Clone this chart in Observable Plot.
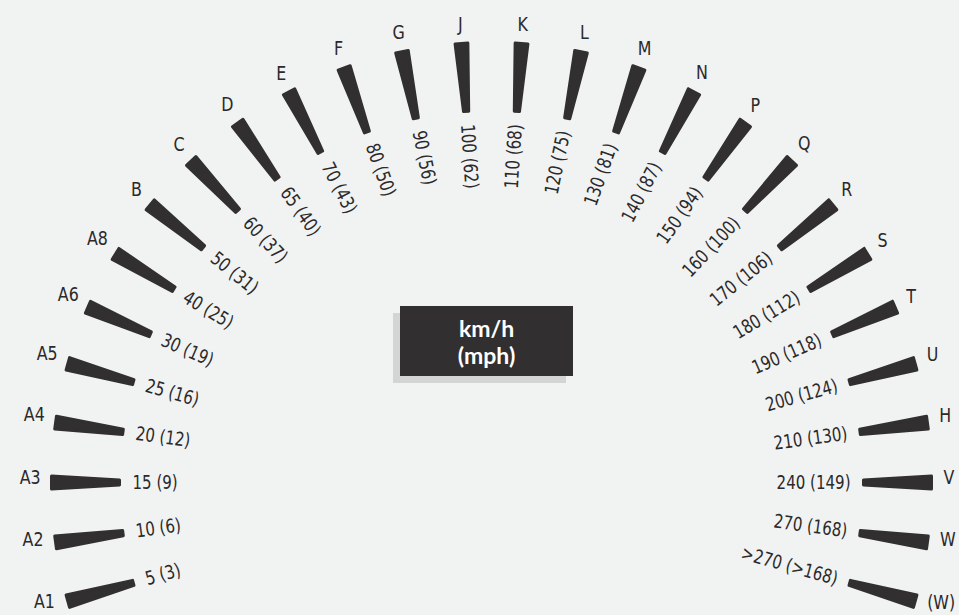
<!DOCTYPE html>
<html><head><meta charset="utf-8">
<script src="https://cdn.jsdelivr.net/npm/d3@7"></script>
<script src="https://cdn.jsdelivr.net/npm/@observablehq/plot@0.6"></script>
<style>
html,body{margin:0;padding:0;background:#f1f2f2;}
#chart svg{display:block;}
</style></head><body><div id="chart"></div>
<script>
// Speed rating symbols, around the arc from lower-left to lower-right
const ratings = ["A1","A2","A3","A4","A5","A6","A8","B","C","D","E","F","G","J","K","L","M","N","P","Q","R","S","T","U","H","V","W","(W)"];
// Maximum speed, km/h
const kmh = ["5","10","15","20","25","30","40","50","60","65","70","80","90","100","110","120","130","140","150","160","170","180","190","200","210","240","270",">270"];
// Maximum speed, mph
const mph = ["3","6","9","12","16","19","25","31","37","40","43","50","56","62","68","75","81","87","94","100","106","112","118","124","130","149","168",">168"];
const unitLabel = "km/h\n(mph)";

// layout
const STEP = 180 / 23;             // degrees between wedges
const START = 180 + 2 * STEP;      // first wedge angle (A1)
const R_OUT = 440, R_IN = 372, HW_OUT = 6.4, HW_IN = 2.6;
const R_LETTER = 453, R_SPEED = 359;
const LETTER_SIZE = 20, LETTER_SQUEEZE = 0.88;
const DARK = "#312f30", BG = "#f1f2f2", SHADOW = "#d3d4d4", INK = "#2b292a";
const FONT = "'Liberation Sans Narrow','DejaVu Sans Condensed',sans-serif";

const ctx = document.createElement("canvas").getContext("2d");
ctx.font = `${LETTER_SIZE}px ${FONT}`;

const rows = ratings.map((r, i) => {
  const deg = START - i * STEP;
  const t = deg * Math.PI / 180;
  const c = Math.cos(t), s = Math.sin(t);
  // letter box sits just outside the circle R_LETTER (slightly pulled toward the horizontal)
  const lt = (90 + (deg - 90) * 0.993) * Math.PI / 180;
  const lc = Math.cos(lt), ls = Math.sin(lt);
  const hw = ctx.measureText(r).width * LETTER_SQUEEZE / 2, hh = 6;
  const lr = R_LETTER + 0.8 * hw * Math.abs(lc) + hh * Math.abs(ls);
  return {rating: r, label: `${kmh[i]} (${mph[i]})`, deg, c, s, lx: lr * lc, ly: lr * ls};
});

const wedgePts = rows.flatMap(d => {
  const px = -d.s, py = d.c;
  const pts = [[R_OUT, HW_OUT], [R_OUT, -HW_OUT], [R_IN, -HW_IN], [R_IN, HW_IN], [R_OUT, HW_OUT]];
  return pts.map(([r, w]) => ({rating: d.rating, x: r * d.c + w * px, y: r * d.s + w * py}));
});

const left = rows.filter(d => d.deg > 90);
const right = rows.filter(d => d.deg < 90);

const box = [{x1: -91, x2: 82, y1: 106, y2: 176}];
const shadow = [{x1: -98, x2: 75, y1: 99, y2: 169}];

const chart = Plot.plot({
  width: 959, height: 615,
  marginTop: 0, marginRight: 0, marginBottom: 0, marginLeft: 0,
  style: {background: BG},
  x: {domain: [-491, 468], range: [0, 959], axis: null},
  y: {domain: [-133, 482], range: [615, 0], axis: null},
  marks: [
    Plot.rect(shadow, {x1: "x1", x2: "x2", y1: "y1", y2: "y2", fill: SHADOW}),
    Plot.rect(box, {x1: "x1", x2: "x2", y1: "y1", y2: "y2", fill: DARK}),
    Plot.text([unitLabel], {x: [-5], y: [141], text: d => d, fill: "white", fontSize: 23, fontWeight: "bold", fontFamily: "Lato, 'Open Sans', sans-serif", lineHeight: 1.17}),
    Plot.line(wedgePts, {x: "x", y: "y", z: "rating", fill: DARK, stroke: DARK, strokeWidth: 3, strokeLinejoin: "round"}),
    Plot.text(rows, {x: "lx", y: "ly", text: "rating", fontSize: LETTER_SIZE, fontFamily: FONT, fill: INK, className: "letter"}),
    Plot.text(left, {x: d => R_SPEED * d.c, y: d => R_SPEED * d.s, text: "label", rotate: d => 180 - d.deg, textAnchor: "start", fontSize: 19, fontFamily: FONT, fill: INK, className: "speed"}),
    Plot.text(right, {x: d => R_SPEED * d.c, y: d => R_SPEED * d.s, text: "label", rotate: d => -d.deg, textAnchor: "end", fontSize: 19, fontFamily: FONT, fill: INK, className: "speed"})
  ]
});
document.getElementById("chart").appendChild(chart);
// condense the label glyphs to mimic the narrow typeface of the original
function condense(sel, k) {
  d3.select(chart).selectAll(sel).each(function() {
    const len = this.getComputedTextLength();
    if (len > 0) { this.setAttribute("textLength", (len * k).toFixed(1)); this.setAttribute("lengthAdjust", "spacingAndGlyphs"); }
  });
}
condense(".speed text", 0.88);
condense(".letter text", LETTER_SQUEEZE);
</script></body></html>
